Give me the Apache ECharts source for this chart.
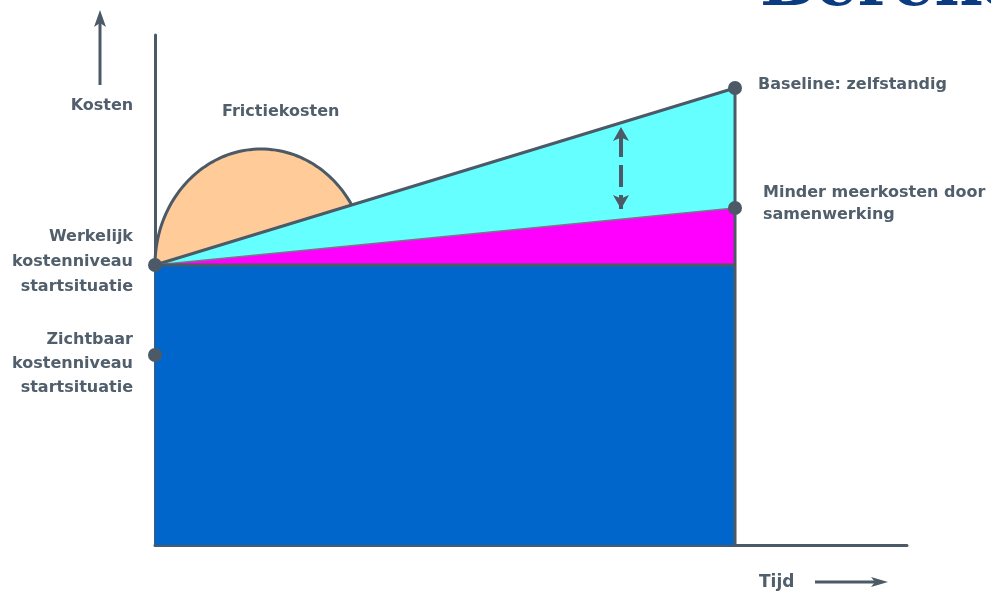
<!DOCTYPE html>
<html><head><meta charset="utf-8">
<script src="https://cdn.jsdelivr.net/npm/echarts@6/dist/echarts.min.js"></script>
<style>html,body{margin:0;padding:0;background:#fff}#c{width:991px;height:593px}</style>
</head><body><div id="c"></div>
<script>
// ---- data (schematic units) ----
const tijd = [0, 58];
const baselineZelfstandig = [28, 45.7];
const samenwerking = [28, 33.7];
const werkelijkNiveau = [28, 28];
const zichtbaarNiveau = 19;
const frictie = { cx: 10.6, cy: 28, rx: 10.6, ry: 11.6 };
const verschilPijl = { x: 46.6, van: 41.8, tot: 33.6 };
const punten = [[0, 28], [0, zichtbaarNiveau], [58, 45.7], [58, 33.7]];
const titel = 'Berekening';
const asLabelY = 'Kosten';
const asLabelX = 'Tijd';
const tekstFrictie = 'Frictiekosten';
const tekstBaseline = 'Baseline: zelfstandig';
const tekstMinder = 'Minder meerkosten door\nsamenwerking';
const tekstWerkelijk = 'Werkelijk\nkostenniveau\nstartsituatie';
const tekstZichtbaar = 'Zichtbaar\nkostenniveau\nstartsituatie';

const DARK = '#4b5a66';
const TXT = '#505f6b';
const FONT = '"DejaVu Sans", Verdana, sans-serif';
const zip = (xs, ys) => xs.map((x, i) => [x, ys[i]]);

const chart = echarts.init(document.getElementById('c'), null, { renderer: 'canvas' });
const txt = (o) => Object.assign({ fill: TXT, font: 'bold 16px ' + FONT }, o);

chart.setOption({
  animation: false,
  grid: { left: 155, top: 35, right: 84, bottom: 48 },
  xAxis: { type: 'value', min: 0, max: 75.2,
    axisLine: { show: true, lineStyle: { color: DARK, width: 3 } },
    axisTick: { show: false }, axisLabel: { show: false }, splitLine: { show: false } },
  yAxis: { type: 'value', min: 0, max: 51,
    axisLine: { show: true, lineStyle: { color: DARK, width: 3 } },
    axisTick: { show: false }, axisLabel: { show: false }, splitLine: { show: false } },
  series: [
    { type: 'custom', name: 'Frictiekosten', data: [[frictie.cx, frictie.cy, frictie.rx, frictie.ry]],
      renderItem: function (params, api) {
        const c = api.coord([api.value(0), api.value(1)]);
        const s = api.size([api.value(2), api.value(3)]);
        const pts = [];
        for (let i = 0; i <= 90; i++) {
          const t = Math.PI - Math.PI * i / 90;
          pts.push([c[0] + s[0] * Math.cos(t), c[1] - s[1] * Math.sin(t)]);
        }
        return { type: 'polygon', shape: { points: pts },
          style: { fill: '#FFCC99', stroke: DARK, lineWidth: 3 } };
      } },
    { type: 'line', name: 'Baseline', data: zip(tijd, baselineZelfstandig), symbol: 'none',
      lineStyle: { color: DARK, width: 3 }, areaStyle: { color: '#66FFFF', opacity: 1 } },
    { type: 'line', name: 'Samenwerking', data: zip(tijd, samenwerking), symbol: 'none',
      lineStyle: { color: '#6f7c86', width: 1.5 }, areaStyle: { color: '#FF00FF', opacity: 1 } },
    { type: 'line', name: 'Werkelijk', data: zip(tijd, werkelijkNiveau), symbol: 'none',
      lineStyle: { color: DARK, width: 3 }, areaStyle: { color: '#0066CC', opacity: 1 } },
    { type: 'line', name: 'Einde', data: [[tijd[1], 0], [tijd[1], baselineZelfstandig[1]]], symbol: 'none',
      lineStyle: { color: DARK, width: 3 } },
    { type: 'scatter', name: 'Punten', data: punten, symbolSize: 14, clip: false, z: 10,
      itemStyle: { color: DARK, opacity: 1, borderWidth: 0 },
      markLine: { silent: true, symbol: ['arrow', 'arrow'], symbolSize: [12, 14],
        label: { show: false },
        lineStyle: { color: DARK, width: 4, type: [22, 8], dashOffset: 22 },
        data: [[{ coord: [verschilPijl.x, verschilPijl.van] }, { coord: [verschilPijl.x, verschilPijl.tot] }]] } }
  ],
  graphic: [
    { type: 'text', x: 760, y: -12, style: { text: titel, fill: '#0B3C82',
      font: 'bold 66px "DejaVu Serif", serif', verticalAlign: 'middle' } },
    { type: 'line', shape: { x1: 100, y1: 85, x2: 100, y2: 20 }, style: { stroke: DARK, lineWidth: 3 } },
    { type: 'polygon', shape: { points: [[100, 10], [106, 27], [100, 23], [94, 27]] }, style: { fill: DARK } },
    { type: 'text', x: 102, y: 106, style: txt({ text: asLabelY, align: 'center', verticalAlign: 'middle' }) },
    { type: 'text', x: 759, y: 583, style: txt({ text: asLabelX, align: 'left', verticalAlign: 'middle', font: 'bold 17px ' + FONT }) },
    { type: 'line', shape: { x1: 815, y1: 582, x2: 878, y2: 582 }, style: { stroke: DARK, lineWidth: 3 } },
    { type: 'polygon', shape: { points: [[888, 582], [871, 577], [875, 582], [871, 587]] }, style: { fill: DARK } },
    { type: 'text', x: 222, y: 112, style: txt({ text: tekstFrictie, align: 'left', verticalAlign: 'middle' }) },
    { type: 'text', x: 758, y: 85, style: txt({ text: tekstBaseline, align: 'left', verticalAlign: 'middle' }) },
    { type: 'text', x: 763, y: 204, style: txt({ text: tekstMinder, align: 'left', verticalAlign: 'middle', lineHeight: 22 }) },
    { type: 'text', x: 133, y: 262, style: txt({ text: tekstWerkelijk, align: 'right', verticalAlign: 'middle', lineHeight: 25 }) },
    { type: 'text', x: 133, y: 364, style: txt({ text: tekstZichtbaar, align: 'right', verticalAlign: 'middle', lineHeight: 24 }) }
  ]
});
</script></body></html>
